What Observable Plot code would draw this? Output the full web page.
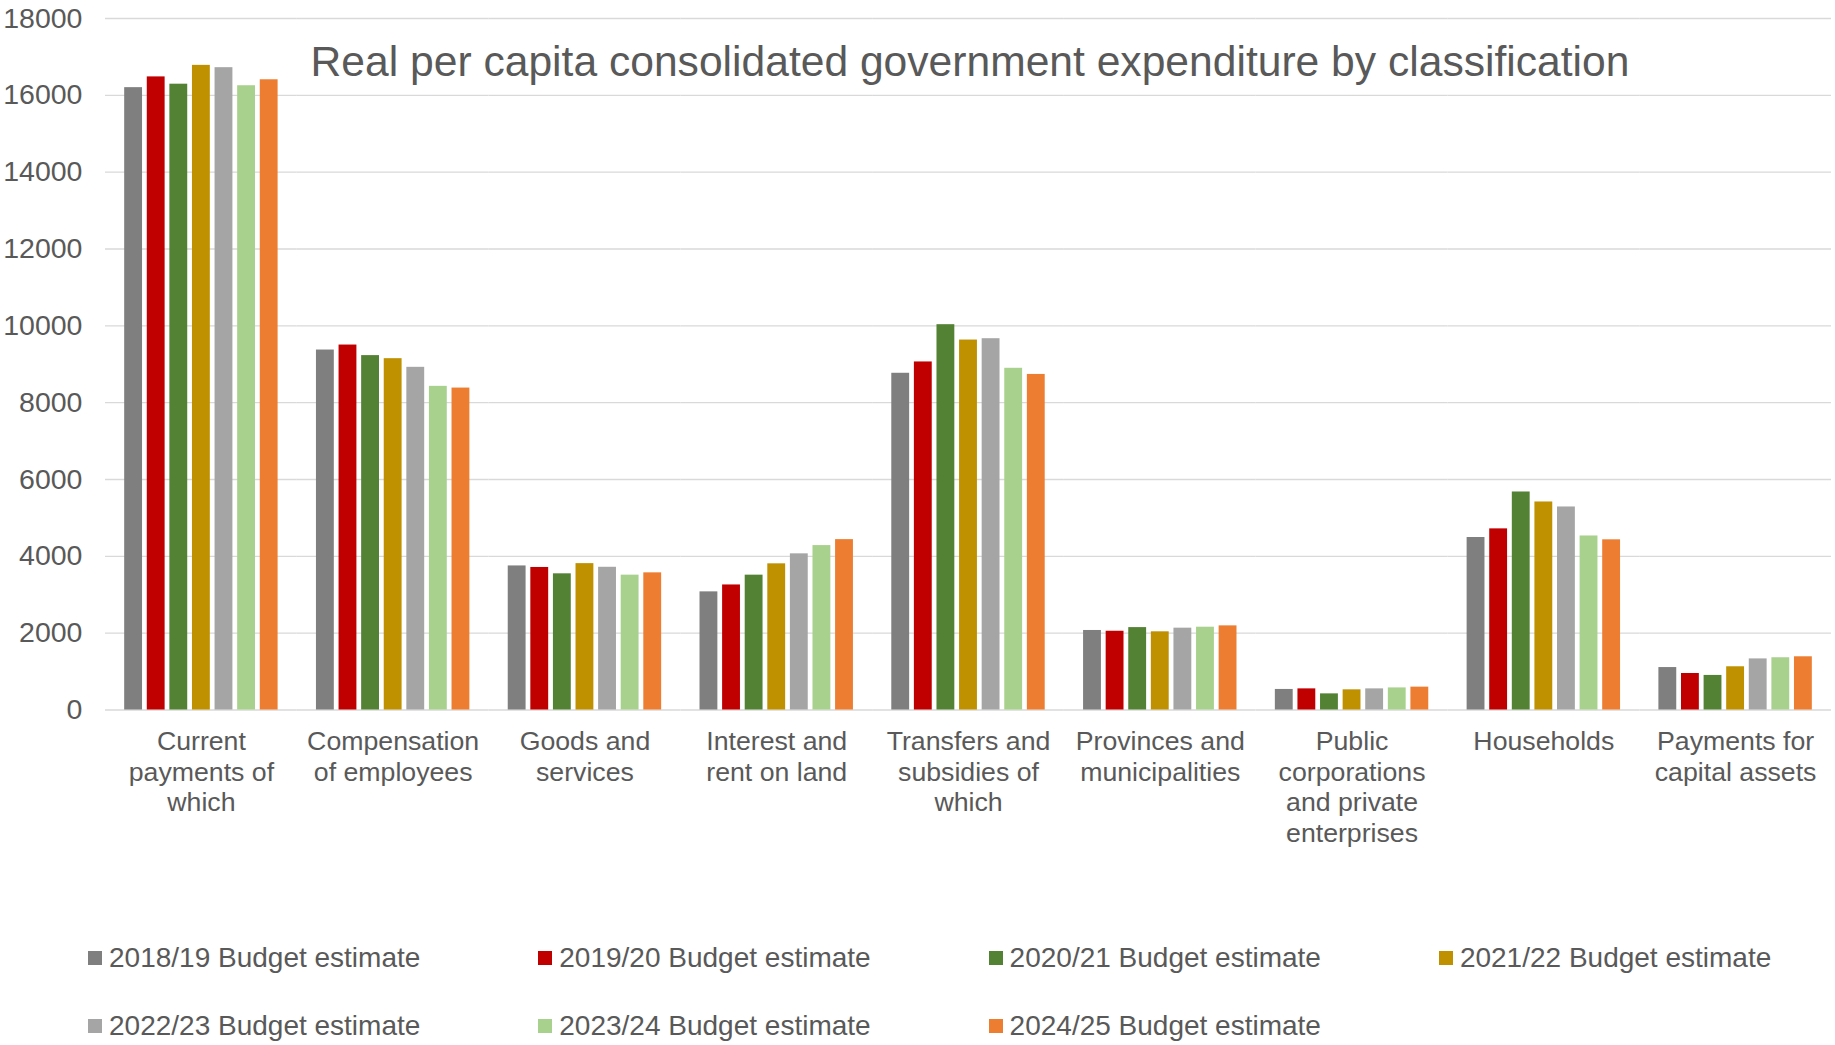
<!DOCTYPE html>
<html>
<head>
<meta charset="utf-8">
<script src="https://cdn.jsdelivr.net/npm/d3@7"></script>
<script src="https://cdn.jsdelivr.net/npm/@observablehq/plot@0.6"></script>
<style>
  html, body { margin: 0; padding: 0; background: #fff; }
  #wrap { position: relative; width: 1835px; height: 1045px; font-family: "Liberation Sans", Arial, sans-serif; color: #595959; }
  #title { position: absolute; left: 970px; top: 40px; transform: translateX(-50%); white-space: nowrap; font-size: 42.6px; line-height: 42px; color: #595959; }
  .lg { position: absolute; display: flex; align-items: center; white-space: nowrap; font-size: 28px; line-height: 28px; color: #595959; }
  .lg span.sw { display: inline-block; width: 14px; height: 14px; margin-right: 7px; }
</style>
</head>
<body>
<div id="wrap">
  <div id="chart"></div>
  <div id="title">Real per capita consolidated government expenditure by classification</div>
  <div id="legend"></div>
</div>
<script>
const categories = [
  "Current payments of which",
  "Compensation of employees",
  "Goods and services",
  "Interest and rent on land",
  "Transfers and subsidies of which",
  "Provinces and municipalities",
  "Public corporations and private enterprises",
  "Households",
  "Payments for capital assets"
];
const categoryLabels = [
  "Current\npayments of\nwhich",
  "Compensation\nof employees",
  "Goods and\nservices",
  "Interest and\nrent on land",
  "Transfers and\nsubsidies of\nwhich",
  "Provinces and\nmunicipalities",
  "Public\ncorporations\nand private\nenterprises",
  "Households",
  "Payments for\ncapital assets"
];
const series = [
  "2018/19 Budget estimate",
  "2019/20 Budget estimate",
  "2020/21 Budget estimate",
  "2021/22 Budget estimate",
  "2022/23 Budget estimate",
  "2023/24 Budget estimate",
  "2024/25 Budget estimate"
];
const colors = ["#7F7F7F", "#C00000", "#548235", "#BF9000", "#A5A5A5", "#A9D18E", "#ED7D31"];
const be2018 = [16200, 9370, 3750, 3075, 8765, 2070, 535, 4490, 1105];
const be2019 = [16480, 9500, 3710, 3255, 9060, 2050, 550, 4715, 950];
const be2020 = [16290, 9225, 3545, 3510, 10030, 2145, 420, 5675, 900];
const be2021 = [16780, 9145, 3810, 3805, 9630, 2035, 525, 5415, 1125];
const be2022 = [16720, 8920, 3715, 4065, 9665, 2130, 550, 5285, 1330];
const be2023 = [16250, 8425, 3510, 4280, 8895, 2155, 575, 4530, 1360];
const be2024 = [16405, 8380, 3570, 4435, 8735, 2190, 595, 4430, 1385];
const yTicks = [0, 2000, 4000, 6000, 8000, 10000, 12000, 14000, 16000, 18000];

const seriesValues = [be2018, be2019, be2020, be2021, be2022, be2023, be2024];
const rows = [];
categories.forEach((c, i) => {
  series.forEach((s, j) => rows.push({category: c, series: s, value: seriesValues[j][i]}));
});
const labelOf = new Map(categories.map((c, i) => [c, categoryLabels[i]]));

const W = 1835, ML = 105, MR = 4;
const fxPadInner = 0.2, fxPadOuter = 0.1;
const halfGap = (W - ML - MR) / categories.length * fxPadInner / 2;

const chart = Plot.plot({
  width: W,
  height: 870,
  marginLeft: ML,
  marginRight: MR,
  marginTop: 18,
  marginBottom: 160.5,
  style: {fontFamily: "Liberation Sans, Arial, sans-serif", color: "#595959", background: "#fff"},
  fx: {domain: categories, paddingInner: fxPadInner, paddingOuter: fxPadOuter, round: false, label: null},
  x: {domain: series, paddingInner: 0.21, paddingOuter: 0, round: false, axis: null},
  y: {domain: [0, 18000], axis: null},
  color: {domain: series, range: colors},
  marks: [
    Plot.ruleY(yTicks, {y: d => d, insetLeft: -halfGap, insetRight: -halfGap, stroke: "#D9D9D9", strokeWidth: 1.3}),
    Plot.axisY({anchor: "left", ticks: yTicks, tickSize: 0, tickPadding: 42.2, fontSize: 28.5, fill: "#595959", label: null, tickFormat: d => String(d)}),
    Plot.barY(rows, {fx: "category", x: "series", y: "value", fill: "series"}),
    Plot.axisFx({anchor: "bottom", tickSize: 0, tickPadding: 18, fontSize: 26.7, lineHeight: 1.153, fill: "#595959", label: null, tickFormat: d => labelOf.get(d)})
  ]
});
document.getElementById("chart").appendChild(chart);

// Legend
const legend = document.getElementById("legend");
series.forEach((s, i) => {
  const col = i % 4, row = Math.floor(i / 4);
  const item = document.createElement("div");
  item.className = "lg";
  item.style.left = (88 + col * 450.3) + "px";
  item.style.top = (958 + row * 68 - 14) + "px";
  item.style.height = "28px";
  const sw = document.createElement("span");
  sw.className = "sw";
  sw.style.background = colors[i];
  item.appendChild(sw);
  item.appendChild(document.createTextNode(s));
  legend.appendChild(item);
});
</script>
</body>
</html>
